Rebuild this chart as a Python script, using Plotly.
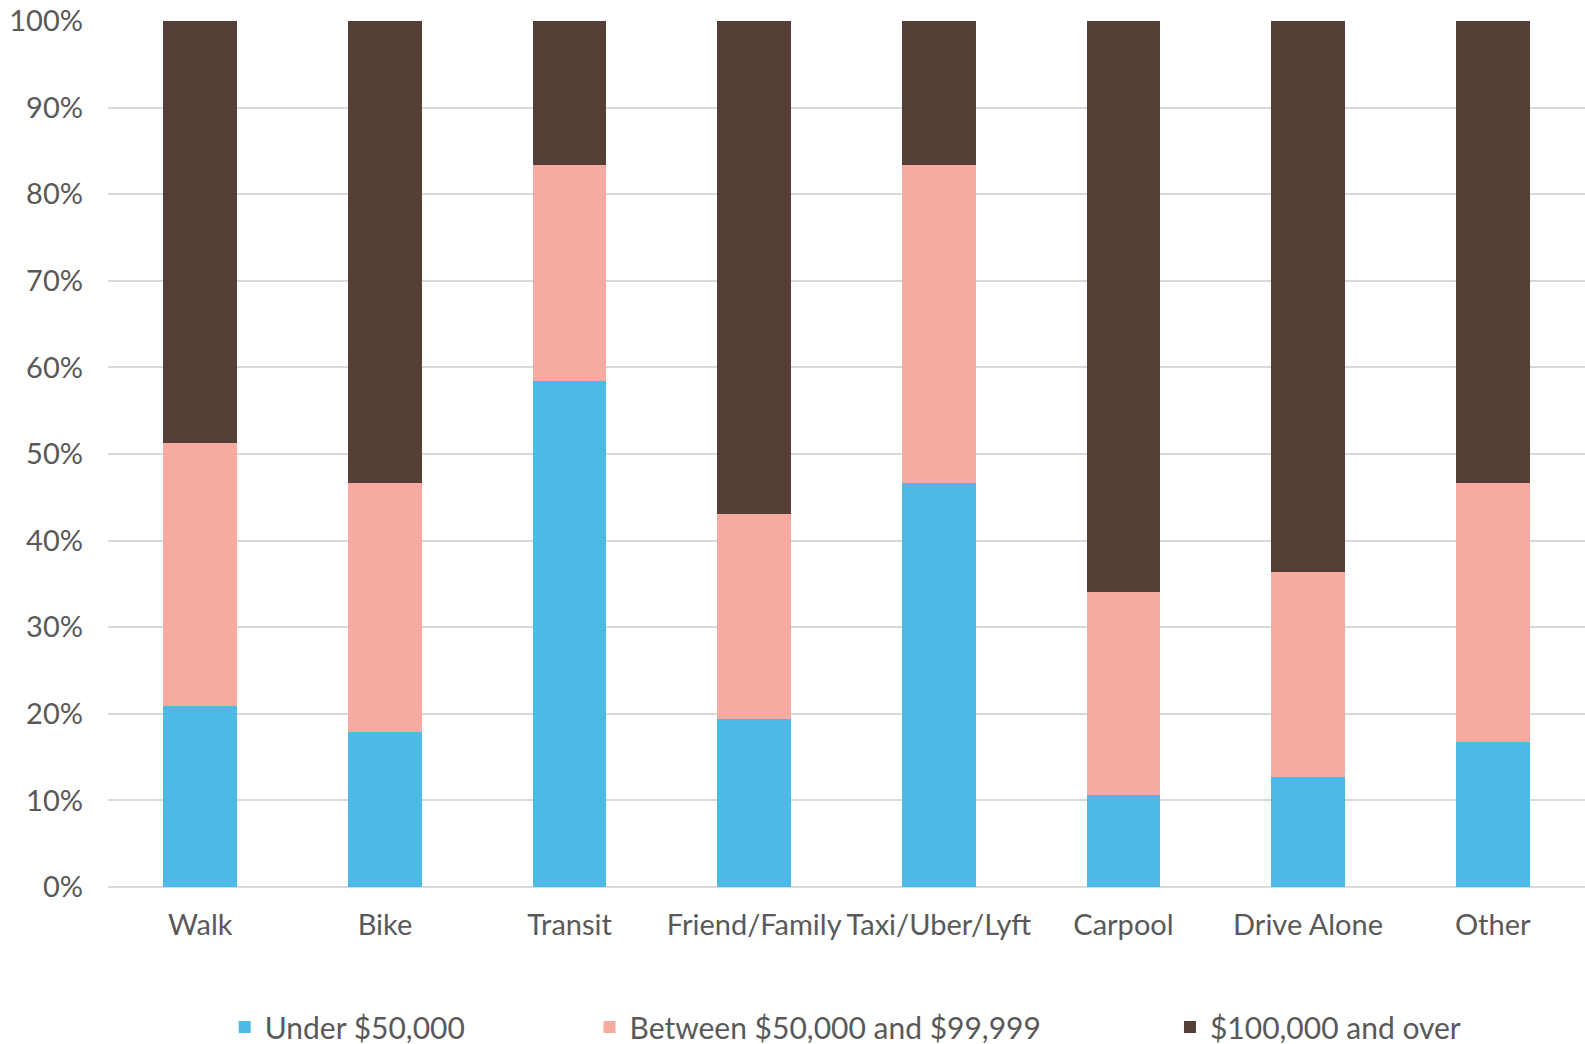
import plotly.graph_objects as go

categories = ["Walk", "Bike", "Transit", "Friend/Family", "Taxi/Uber/Lyft", "Carpool", "Drive Alone", "Other"]
under_50k = [20.9, 17.9, 58.4, 19.4, 46.6, 10.6, 12.7, 16.7]
between_50k_100k = [30.4, 28.7, 25.0, 23.7, 36.8, 23.5, 23.7, 30.0]
over_100k = [48.7, 53.4, 16.6, 56.9, 16.6, 65.9, 63.6, 53.3]
y_ticks = [0, 10, 20, 30, 40, 50, 60, 70, 80, 90, 100]
y_tick_labels = [f"{v}%" for v in y_ticks]

FONT = "Lato"
TEXT = "#595959"

fig = go.Figure()
fig.add_trace(go.Bar(x=categories, y=under_50k, name="Under $50,000",
                     marker=dict(color="#4BBBE6", line=dict(width=0)), legend="legend"))
fig.add_trace(go.Bar(x=categories, y=between_50k_100k, name="Between $50,000 and $99,999",
                     marker=dict(color="#F7ABA0", line=dict(width=0)), legend="legend2"))
fig.add_trace(go.Bar(x=categories, y=over_100k, name="$100,000 and over",
                     marker=dict(color="#553E36", line=dict(width=0)), legend="legend3"))

leg_common = dict(orientation="h", yref="container", yanchor="middle", y=0.0163, xanchor="left",
                  font=dict(family=FONT, size=30, color=TEXT), bgcolor="rgba(0,0,0,0)")

fig.update_layout(
    barmode="stack",
    bargap=0.6,
    showlegend=True,
    width=1585, height=1044,
    margin=dict(l=108, r=0, t=21, b=157),
    plot_bgcolor="white", paper_bgcolor="white",
    font=dict(family=FONT, size=29, color=TEXT),
    legend=dict(x=0.079, **leg_common),
    legend2=dict(x=0.326, **leg_common),
    legend3=dict(x=0.719, **leg_common),
    xaxis=dict(tickfont=dict(family=FONT, size=29, color=TEXT), showgrid=False,
               showline=False, ticks="", ticklabelstandoff=18),
    yaxis=dict(range=[0, 100], tickmode="array", tickvals=y_ticks, ticktext=y_tick_labels,
               tickfont=dict(family=FONT, size=29, color=TEXT),
               showgrid=True, gridcolor="#D9D9D9", gridwidth=1.5,
               zeroline=True, zerolinecolor="#D9D9D9", zerolinewidth=1.5,
               showline=False, ticks="", ticklabelstandoff=24),
)

fig.write_html("out.html")
